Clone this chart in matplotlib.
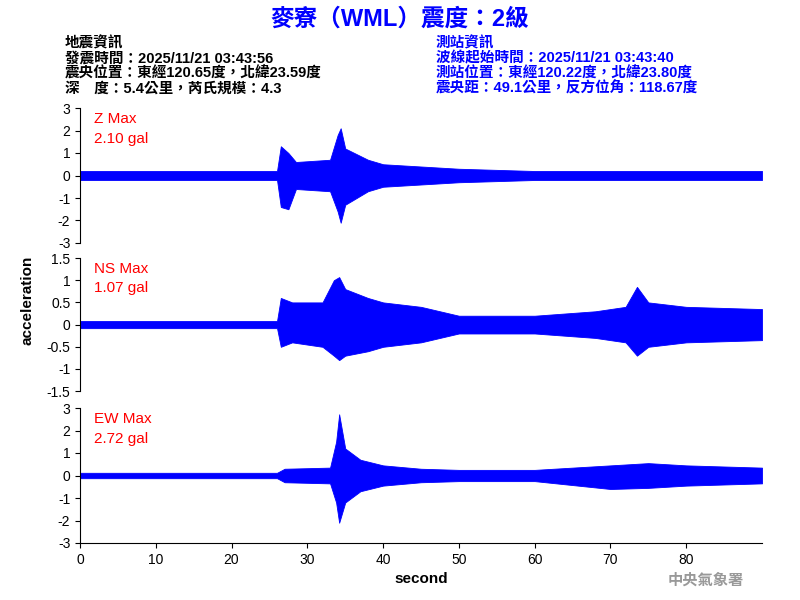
import matplotlib
matplotlib.use("Agg")
import matplotlib.pyplot as plt

plt.rcParams['font.family'] = ['Liberation Sans', 'Noto Sans CJK TC', 'DejaVu Sans']

# envelope of each trace: time (s), upper, lower
z_t = [0, 26, 26.5, 27.5, 28.5, 33, 34.0, 34.4, 35, 38, 40, 45, 50, 60, 70, 80, 90]
z_hi = [0.2, 0.2, 1.3, 1.0, 0.6, 0.7, 1.8, 2.1, 1.2, 0.7, 0.5, 0.4, 0.3, 0.2, 0.2, 0.2, 0.2]
z_lo = [-0.2, -0.2, -1.4, -1.5, -0.6, -0.7, -1.6, -2.1, -1.3, -0.7, -0.5, -0.4, -0.3, -0.2, -0.2, -0.2, -0.2]

ns_t = [0, 26, 26.5, 28, 32, 33.5, 34.2, 35, 38, 40, 45, 50, 60, 68, 72, 73.5, 75, 80, 90]
ns_hi = [0.08, 0.08, 0.6, 0.5, 0.5, 1.0, 1.07, 0.8, 0.6, 0.5, 0.4, 0.2, 0.2, 0.3, 0.4, 0.85, 0.5, 0.4, 0.35]
ns_lo = [-0.08, -0.08, -0.5, -0.4, -0.5, -0.7, -0.8, -0.7, -0.6, -0.5, -0.4, -0.2, -0.2, -0.3, -0.4, -0.7, -0.5, -0.4, -0.35]

ew_t = [0, 26, 27, 33, 33.8, 34.2, 35, 37, 40, 45, 50, 60, 70, 75, 80, 90]
ew_hi = [0.12, 0.12, 0.3, 0.35, 1.5, 2.72, 1.2, 0.7, 0.45, 0.3, 0.25, 0.25, 0.45, 0.55, 0.45, 0.35]
ew_lo = [-0.12, -0.12, -0.3, -0.35, -1.2, -2.1, -1.2, -0.7, -0.45, -0.3, -0.25, -0.25, -0.6, -0.55, -0.45, -0.35]

panels = [
    ("Z Max\n2.10 gal", z_t, z_hi, z_lo, 3, [3, 2, 1, 0, -1, -2, -3], ["3", "2", "1", "0", "-1", "-2", "-3"]),
    ("NS Max\n1.07 gal", ns_t, ns_hi, ns_lo, 1.5, [1.5, 1, 0.5, 0, -0.5, -1, -1.5],
     ["1.5", "1", "0.5", "0", "-0.5", "-1", "-1.5"]),
    ("EW Max\n2.72 gal", ew_t, ew_hi, ew_lo, 3, [3, 2, 1, 0, -1, -2, -3], ["3", "2", "1", "0", "-1", "-2", "-3"]),
]
boxes = [(0.82, 0.595), (0.57, 0.348), (0.32, 0.095)]

fig = plt.figure(figsize=(8, 6), dpi=100)
for i, (label, t, hi, lo, lim, ticks, tl) in enumerate(panels):
    top, bot = boxes[i]
    ax = fig.add_axes([0.1, bot, 0.8525, top - bot])
    ax.fill_between(t, lo, hi, color='blue', linewidth=0.6)
    ax.axhline(0, color='blue', linewidth=0.8)
    ax.set_xlim(0, 90)
    ax.set_ylim(-lim, lim)
    ax.set_yticks(ticks)
    ax.set_yticklabels(tl, fontsize=10)
    for s in ['top', 'right']:
        ax.spines[s].set_visible(False)
    if i < 2:
        ax.spines['bottom'].set_visible(False)
        ax.set_xticks([])
    else:
        ax.set_xticks(range(0, 90, 10))
        ax.tick_params(axis='x', labelsize=10)
        ax.set_xlabel("second", fontsize=11, fontweight='bold')
    ax.text(0.02, 0.97, label, transform=ax.transAxes, color='red', fontsize=11,
            va='top', ha='left', linespacing=1.5)

fig.text(0.035, 0.5, "acceleration", rotation=90, ha='center', va='center', fontsize=11, fontweight='bold')
fig.text(0.5, 0.968, "麥寮（WML）震度：2級", color='blue', fontsize=17, fontweight='bold',
         ha='center', va='center')

left_lines = ["地震資訊", "發震時間：2025/11/21 03:43:56", "震央位置：東經120.65度，北緯23.59度",
              "深　度：5.4公里，芮氏規模：4.3"]
right_lines = ["測站資訊", "波線起始時間：2025/11/21 03:43:40", "測站位置：東經120.22度，北緯23.80度",
               "震央距：49.1公里，反方位角：118.67度"]
for k, (a, b) in enumerate(zip(left_lines, right_lines)):
    y = 0.928 - k * 0.025
    fig.text(0.081, y, a, fontsize=10.5, fontweight='bold', va='center')
    fig.text(0.545, y, b, fontsize=10.5, fontweight='bold', color='blue', va='center')

fig.text(0.93, 0.032, "中央氣象署", color='#999999', fontsize=11, fontweight='bold', ha='right', va='center')

fig.savefig("out.png", dpi=100)
